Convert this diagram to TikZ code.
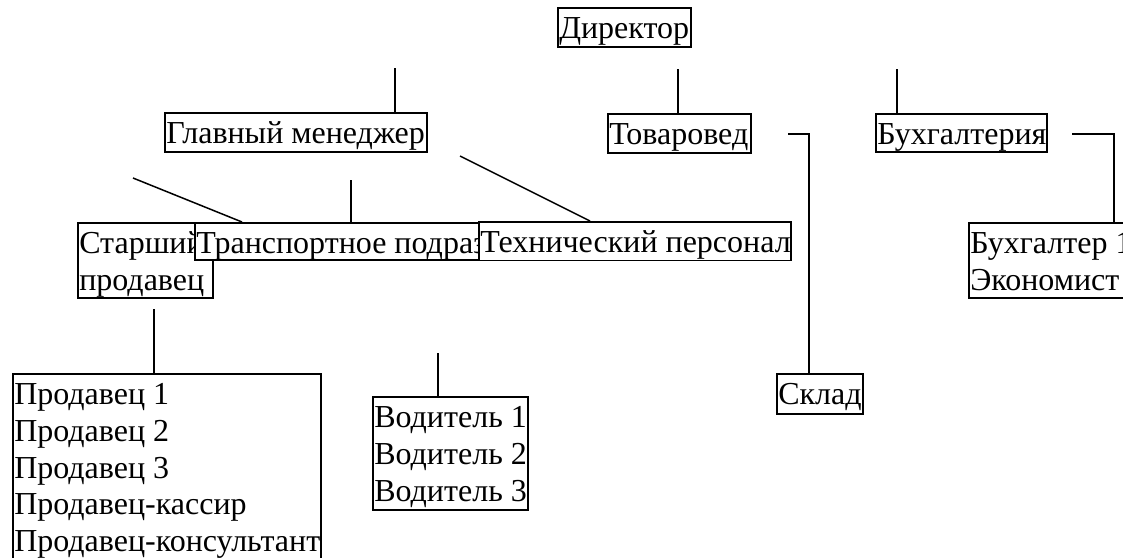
\documentclass[tikz,border=0pt]{standalone}
\usepackage{fontspec}
\setmainfont{Liberation Serif}
\newcommand\boxtext[3]{\parbox[c][#2][t]{#1}{\raggedright\leftskip=1.5pt\fontsize{32}{36.7}\selectfont\rule{0pt}{31pt}#3}}
\tikzset{
  orgbox/.style={draw, line width=1.5pt, fill=white, inner sep=0pt, anchor=north west},
  conn/.style={line width=1.5pt}
}
\begin{document}
\begin{tikzpicture}[x=1pt,y=-1pt]
\useasboundingbox (0,0) rectangle (1123,557);
% boxes
\node[orgbox] (dir)   at (557,7)   {\boxtext{133pt}{39pt}{Директор}};
\node[orgbox] (gm)    at (164,112) {\boxtext{262pt}{39pt}{Главный менеджер}};
\node[orgbox] (tov)   at (607,113) {\boxtext{143pt}{39pt}{Товаровед}};
\node[orgbox] (buh)   at (875,113) {\boxtext{171pt}{38pt}{Бухгалтерия}};
\node[orgbox] (st)    at (77,222)  {\boxtext{135pt}{75pt}{Старший\\продавец}};
\node[orgbox] (tr)    at (194,222) {\boxtext{402pt}{37pt}{Транспортное подразделение}};
\node[orgbox] (teh)   at (478,221) {\boxtext{312pt}{38.5pt}{Технический персонал}};
\node[orgbox] (sklad) at (776,373) {\boxtext{86pt}{40pt}{Склад}};
\node[orgbox] (bux1)  at (968,222) {\boxtext{180pt}{75pt}{Бухгалтер 1\\Экономист}};
\node[orgbox] (prod)  at (12,373)  {\boxtext{308pt}{200pt}{Продавец 1\\Продавец 2\\Продавец 3\\Продавец-кассир\\Продавец-консультант}};
\node[orgbox] (vod)   at (372,396) {\boxtext{155pt}{113pt}{Водитель 1\\Водитель 2\\Водитель 3}};
% free ends of connectors
\coordinate (e1) at (395,68);
\coordinate (e2) at (678,69);
\coordinate (e3) at (897,69);
\coordinate (e4) at (788,134);
\coordinate (k4) at (809,134);
\coordinate (e5) at (1072,134);
\coordinate (k5) at (1114,134);
\coordinate (e6) at (133,178);
\coordinate (e7) at (351,180);
\coordinate (e8) at (460,156);
\coordinate (e9) at (154,309);
\coordinate (e10) at (438,353);
% connectors
\draw[conn] (e1) -- (e1 |- gm.north);
\draw[conn] (e2) -- (e2 |- tov.north);
\draw[conn] (e3) -- (e3 |- buh.north);
\draw[conn] (e4) -- (k4) -- (k4 |- sklad.north);
\draw[conn] (e5) -- (k5) -- (k5 |- bux1.north);
\draw[conn] (e6) -- ([xshift=48pt]tr.north west);
\draw[conn] (e7) -- (e7 |- tr.north);
\draw[conn] (e8) -- ([xshift=112pt]teh.north west);
\draw[conn] (e9) -- (e9 |- prod.north);
\draw[conn] (e10) -- (e10 |- vod.north);
\end{tikzpicture}
\end{document}
